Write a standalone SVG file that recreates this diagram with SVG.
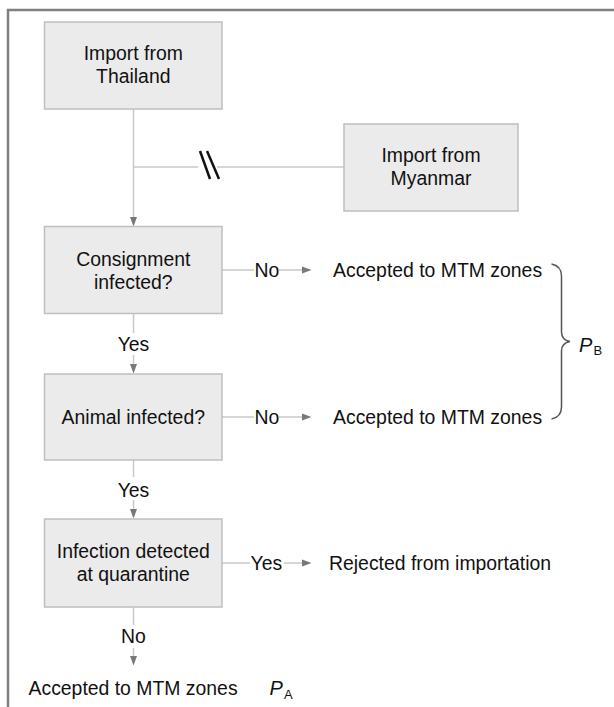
<svg xmlns="http://www.w3.org/2000/svg" width="614" height="707" viewBox="0 0 614 707">
<style>
  .box { fill: #ebebeb; stroke: #bfbfbf; stroke-width: 1.5; }
  .t { font-family: "Liberation Sans", Arial, sans-serif; font-size: 19.4px; fill: #111111; }
  .m { text-anchor: middle; }
  .ln { stroke: #c8c8c8; stroke-width: 1.5; fill: none; }
  .ah { fill: #787878; }
  .it { font-family: "Liberation Sans", Arial, sans-serif; font-style: italic; font-size: 20px; fill: #111111; }
  .sub { font-family: "Liberation Sans", Arial, sans-serif; font-size: 13px; fill: #111111; }
</style>
<defs>
  <path id="ad" d="M -3.5 0 L 3.5 0 L 0 9.5 Z"/>
  <path id="ar" d="M 0 -3.5 L 0 3.5 L 9.5 0 Z"/>
</defs>
<rect x="0" y="0" width="614" height="707" fill="#ffffff"/>
<path d="M 8 707 V 10 H 614" fill="none" stroke="#808080" stroke-width="2.5"/>

<g id="connectors">
  <line class="ln" x1="133.5" y1="109" x2="133.5" y2="217"/>
  <use href="#ad" class="ah" x="133.5" y="217"/>
  <line class="ln" x1="133.5" y1="167" x2="198" y2="167"/>
  <line class="ln" x1="217" y1="167" x2="344" y2="167"/>
  <line x1="200" y1="151" x2="210" y2="179" stroke="#111" stroke-width="2.5"/>
  <line x1="207" y1="151" x2="219" y2="179" stroke="#111" stroke-width="2.5"/>
  <line class="ln" x1="133.5" y1="313.5" x2="133.5" y2="333"/>
  <line class="ln" x1="133.5" y1="355" x2="133.5" y2="364"/>
  <use href="#ad" class="ah" x="133.5" y="364"/>
  <text class="t m" x="133.5" y="350.5">Yes</text>
  <line class="ln" x1="133.5" y1="460" x2="133.5" y2="477"/>
  <line class="ln" x1="133.5" y1="500" x2="133.5" y2="509"/>
  <use href="#ad" class="ah" x="133.5" y="509"/>
  <text class="t m" x="133.5" y="497">Yes</text>
  <line class="ln" x1="133.5" y1="607" x2="133.5" y2="625"/>
  <line class="ln" x1="133.5" y1="648" x2="133.5" y2="656"/>
  <use href="#ad" class="ah" x="133.5" y="656"/>
  <text class="t m" x="133.5" y="643">No</text>
  <line class="ln" x1="222" y1="270" x2="254" y2="270"/>
  <line class="ln" x1="279" y1="270" x2="302" y2="270"/>
  <use href="#ar" class="ah" x="302" y="270"/>
  <text class="t" x="254.5" y="276.8">No</text>
  <line class="ln" x1="222" y1="417" x2="254" y2="417"/>
  <line class="ln" x1="279" y1="417" x2="302" y2="417"/>
  <use href="#ar" class="ah" x="302" y="417"/>
  <text class="t" x="254.5" y="423.8">No</text>
  <line class="ln" x1="222" y1="563" x2="250" y2="563"/>
  <line class="ln" x1="284" y1="563" x2="302" y2="563"/>
  <use href="#ar" class="ah" x="302" y="563"/>
  <text class="t" x="250.5" y="569.8">Yes</text>
  <path d="M 551.5 264 Q 561.5 266 561.5 276 L 561.5 332 Q 561.5 340 570 341.5 Q 561.5 343 561.5 351 L 561.5 407 Q 561.5 417 551.5 419" fill="none" stroke="#555" stroke-width="1.5"/>
</g>

<g id="thailand">
  <rect class="box" x="44.5" y="22" width="177.5" height="87"/>
  <text class="t m" x="133.3" y="60">Import from</text>
  <text class="t m" x="133.3" y="83">Thailand</text>
</g>
<g id="myanmar">
  <rect class="box" x="344" y="124" width="174" height="87"/>
  <text class="t m" x="431" y="162">Import from</text>
  <text class="t m" x="431" y="185">Myanmar</text>
</g>
<g id="consignment">
  <rect class="box" x="44.5" y="226.5" width="177.5" height="87"/>
  <text class="t m" x="133.3" y="265.5">Consignment</text>
  <text class="t m" x="133.3" y="288.5">infected?</text>
</g>
<g id="animal">
  <rect class="box" x="44.5" y="374" width="177.5" height="86"/>
  <text class="t m" x="133.3" y="423.5">Animal infected?</text>
</g>
<g id="infection">
  <rect class="box" x="44.5" y="519" width="177.5" height="88"/>
  <text class="t m" x="133.3" y="557.5">Infection detected</text>
  <text class="t m" x="133.3" y="580.5">at quarantine</text>
</g>
<g id="accepted1">
  <text class="t" x="333" y="276.8">Accepted to MTM zones</text>
</g>
<g id="accepted2">
  <text class="t" x="333" y="423.8">Accepted to MTM zones</text>
</g>
<g id="rejected">
  <text class="t" x="329" y="569.8">Rejected from importation</text>
</g>
<g id="accepted3">
  <text class="t" x="28.5" y="695">Accepted to MTM zones</text>
</g>
<g id="pa">
  <text class="it" x="269.5" y="695">P</text>
  <text class="sub" x="284" y="698.5">A</text>
</g>
<g id="pb">
  <text class="it" x="579" y="351.5">P</text>
  <text class="sub" x="593.5" y="355">B</text>
</g>
</svg>
